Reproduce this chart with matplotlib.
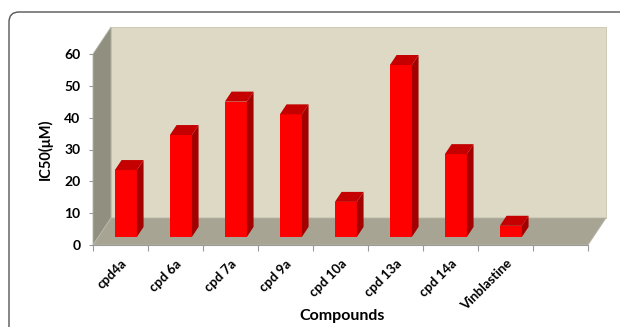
import matplotlib
matplotlib.use("Agg")
import matplotlib.pyplot as plt
from matplotlib.patches import Polygon, FancyBboxPatch

plt.rcParams['font.family'] = ['Lato', 'DejaVu Sans']

categories = ["cpd4a", "cpd 6a", "cpd 7a", "cpd 9a", "cpd 10a", "cpd 13a", "cpd 14a", "Vinblastine"]
ic50 = [21, 32, 42.5, 38.5, 11, 54, 26, 3.5]
yticks = [0, 10, 20, 30, 40, 50, 60]
n_slots = len(categories) + 1

W, H, DPI = 620, 327, 100
fig = plt.figure(figsize=(W / DPI, H / DPI), dpi=DPI)
fig.patch.set_facecolor("white")

# outer rounded frame
frame = FancyBboxPatch((0.09, -0.5), 7.0, 3.65, boxstyle="round,pad=0,rounding_size=0.1",
                       transform=fig.dpi_scale_trans, facecolor="none",
                       edgecolor="#555555", linewidth=1.0)
fig.patches.append(frame)

ax = fig.add_axes([93 / W, (H - 245) / H, 495 / W, 191 / H])
ax.set_xlim(0, n_slots)
ax.set_ylim(0, 60)
ax.set_facecolor("none")

# oblique depth offsets (data units per unit depth)
DX = 18 / 55
DY = 27 * 60 / 191


def P(x, y, z):
    return (x + z * DX, y + z * DY)


def poly(pts, fc, ec="none", lw=0.0, z=1):
    p = Polygon(pts, closed=True, facecolor=fc, edgecolor=ec, linewidth=lw,
                clip_on=False, zorder=z)
    ax.add_patch(p)


ymax = yticks[-1]
# walls
poly([P(0, 0, 1), P(n_slots, 0, 1), P(n_slots, ymax, 1), P(0, ymax, 1)], "#DDD9C4", "#C8C4B0", 0.6, 1)
poly([P(0, 0, 0), P(0, ymax, 0), P(0, ymax, 1), P(0, 0, 1)], "#918F80", "#B5B3A6", 0.6, 1)
poly([P(0, 0, 0), P(n_slots, 0, 0), P(n_slots, 0, 1), P(0, 0, 1)], "#A7A494", "#B8B6A8", 0.6, 1)

# bars
z0, z1 = 0.3, 0.67
for i, v in enumerate(ic50):
    x0, x1 = i + 0.3, i + 0.7
    poly([P(x0, 0, z0), P(x1, 0, z0), P(x1, v, z0), P(x0, v, z0)], "#FF0000", z=3)
    poly([P(x1, 0, z0), P(x1, 0, z1), P(x1, v, z1), P(x1, v, z0)], "#A30000", z=3)
    poly([P(x0, v, z0), P(x1, v, z0), P(x1, v, z1), P(x0, v, z1)], "#C40000", z=3)

for s in ["top", "right"]:
    ax.spines[s].set_visible(False)
ax.spines["left"].set_visible(False)
ax.spines["bottom"].set_color("#9A9A9A")
ax.spines["bottom"].set_linewidth(0.8)
ax.spines["bottom"].set_zorder(2)

ax.set_yticks(yticks)
ax.set_yticklabels([str(t) for t in yticks], fontsize=10, fontweight="bold")
ax.tick_params(axis="y", length=3, color="#9A9A9A", pad=6)

ax.set_xticks(range(n_slots + 1))
ax.set_xticklabels([])
ax.tick_params(axis="x", which="major", length=4, color="#9A9A9A")
ax.set_xticks([i + 0.5 for i in range(n_slots)], minor=True)
ax.set_xticklabels(categories + [""], minor=True, rotation=45, ha="right",
                   va="top", rotation_mode="anchor", fontsize=9.5, fontweight="bold")
ax.tick_params(axis="x", which="minor", length=0, pad=9)

ax.set_ylabel("IC50(μM)", fontsize=10.5, fontweight="bold", labelpad=8)
fig.text(342 / W, 1 - 316 / H, "Compounds", fontsize=11.5, fontweight="bold",
         ha="center", va="center")

fig.savefig("out.png", dpi=DPI)
